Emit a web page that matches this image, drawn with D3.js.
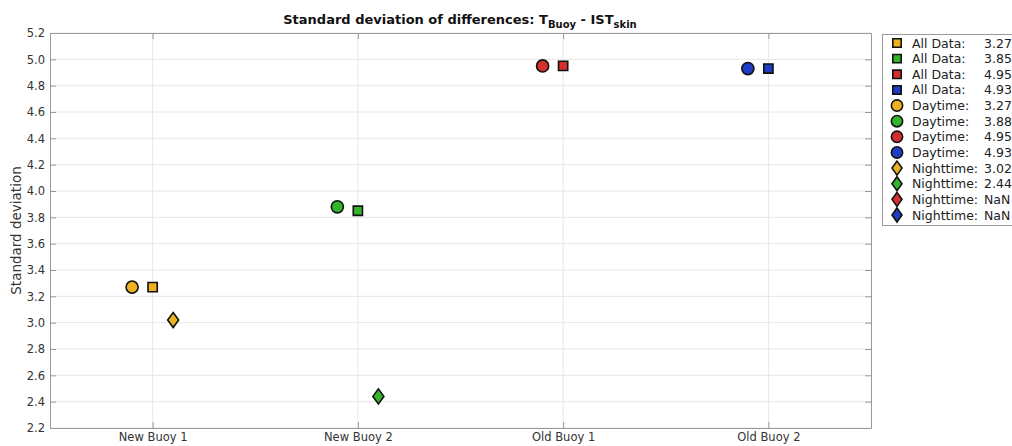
<!DOCTYPE html>
<html>
<head>
<meta charset="utf-8">
<script src="https://cdn.jsdelivr.net/npm/d3@7"></script>
<style>
  body { margin: 0; background: #fff; }
  svg { display: block; font-family: "DejaVu Sans", sans-serif; }
</style>
</head>
<body>
<svg id="chart" width="1012" height="446"></svg>
<script>
// Buoys compared and their standard deviations
const categories = ["New Buoy 1", "New Buoy 2", "Old Buoy 1", "Old Buoy 2"];
const allData   = [3.27, 3.85, 4.95, 4.93];
const daytime   = [3.27, 3.88, 4.95, 4.93];
const nighttime = [3.02, 2.44, NaN, NaN];
const buoyColors = ["#EDB120", "#33B52A", "#D42F2F", "#1C3DC4"];
const yTicks = [2.2, 2.4, 2.6, 2.8, 3.0, 3.2, 3.4, 3.6, 3.8, 4.0, 4.2, 4.4, 4.6, 4.8, 5.0, 5.2];

const svg = d3.select("#chart");
const m = { left: 50, right: 871, top: 33, bottom: 428 };
const x = d3.scaleLinear().domain([0.5, 4.5]).range([m.left, m.right]);
const y = d3.scaleLinear().domain([2.2, 5.2]).range([m.bottom, m.top]);
const axisColor = "#9a9a9a";
const textColor = "#333";

// grid
const grid = svg.append("g");
grid.selectAll(".gy").data(yTicks).join("line")
  .attr("x1", m.left).attr("x2", m.right)
  .attr("y1", d => y(d)).attr("y2", d => y(d))
  .attr("stroke", "#e6e6e6").attr("stroke-width", 1);
grid.selectAll(".gx").data(categories).join("line")
  .attr("x1", (d, i) => x(i + 1)).attr("x2", (d, i) => x(i + 1))
  .attr("y1", m.top).attr("y2", m.bottom)
  .attr("stroke", "#e6e6e6").attr("stroke-width", 1);

// axes (ticks drawn inward, box on)
const yAxisL = d3.axisLeft(y).tickValues(yTicks).tickFormat(d3.format(".1f")).tickSizeInner(-6).tickSizeOuter(0).tickPadding(5);
const yAxisR = d3.axisRight(y).tickValues(yTicks).tickFormat("").tickSizeInner(-6).tickSizeOuter(0);
const xAxisB = d3.axisBottom(x).tickValues([1, 2, 3, 4]).tickFormat(d => categories[d - 1]).tickSizeInner(-6).tickSizeOuter(0).tickPadding(5);
const xAxisT = d3.axisTop(x).tickValues([1, 2, 3, 4]).tickFormat("").tickSizeInner(-6).tickSizeOuter(0);

function styleAxis(g) {
  g.selectAll("path").attr("stroke", axisColor);
  g.selectAll("line").attr("stroke", axisColor);
  g.selectAll("text").attr("fill", textColor).attr("font-size", 11.5).attr("font-family", "DejaVu Sans");
}
svg.append("g").attr("transform", `translate(${m.left},0)`).call(yAxisL).call(styleAxis);
svg.append("g").attr("transform", `translate(${m.right},0)`).call(yAxisR).call(styleAxis);
svg.append("g").attr("transform", `translate(0,${m.bottom})`).call(xAxisB).call(styleAxis);
svg.append("g").attr("transform", `translate(0,${m.top})`).call(xAxisT).call(styleAxis);

// markers
const sym = {
  square: d3.symbol().type(d3.symbolSquare).size(85),
  circle: d3.symbol().type(d3.symbolCircle).size(115),
  diamond: "M0,-7.5L5.5,0L0,7.5L-5.5,0Z"
};
const series = [
  { name: "All Data:", vals: allData, shape: "square", off: 0 },
  { name: "Daytime:", vals: daytime, shape: "circle", off: -0.1 },
  { name: "Nighttime:", vals: nighttime, shape: "diamond", off: 0.1 }
];
const pts = svg.append("g");
series.forEach(s => {
  const data = s.vals.map((v, i) => ({ v, i })).filter(d => !isNaN(d.v));
  pts.selectAll(null).data(data).join("path")
    .attr("d", s.shape === "diamond" ? sym.diamond : sym[s.shape]())
    .attr("transform", d => `translate(${x(d.i + 1 + s.off)},${y(d.v)})`)
    .attr("fill", d => buoyColors[d.i])
    .attr("stroke", "#111").attr("stroke-width", 1.6);
});

// title
const title = svg.append("text").attr("x", 460).attr("y", 24).attr("text-anchor", "middle")
  .attr("font-size", 13).attr("font-weight", "bold").attr("fill", "#111");
title.append("tspan").text("Standard deviation of differences: T");
title.append("tspan").attr("font-size", 10).attr("dy", 4).text("Buoy");
title.append("tspan").attr("dy", -4).text(" - IST");
title.append("tspan").attr("font-size", 10).attr("dy", 4).text("skin");

// y label
svg.append("text").attr("transform", `translate(21,${(m.top + m.bottom) / 2}) rotate(-90)`)
  .attr("text-anchor", "middle").attr("font-size", 13.5).attr("fill", textColor)
  .text("Standard deviation");

// legend
const legend = svg.append("g");
legend.append("rect").attr("x", 882.5).attr("y", 34.5).attr("width", 140).attr("height", 191)
  .attr("fill", "#fff").attr("stroke", axisColor);
const entries = [];
series.forEach(s => s.vals.forEach((v, i) => entries.push({ s, v, i })));
const rowY = d3.scaleLinear().domain([0, entries.length - 1]).range([43, 215]);
const legSym = {
  square: d3.symbol().type(d3.symbolSquare).size(70),
  circle: d3.symbol().type(d3.symbolCircle).size(100),
  diamond: "M0,-7L5,0L0,7L-5,0Z"
};
entries.forEach((e, k) => {
  const cy = rowY(k);
  legend.append("path")
    .attr("d", e.s.shape === "diamond" ? legSym.diamond : legSym[e.s.shape]())
    .attr("transform", `translate(897,${cy})`)
    .attr("fill", buoyColors[e.i]).attr("stroke", "#111").attr("stroke-width", 1.6);
  legend.append("text").attr("x", 912).attr("y", cy + 4.5)
    .attr("font-size", 12.5).attr("fill", "#222")
    .text(e.s.name);
  legend.append("text").attr("x", 984).attr("y", cy + 4.5)
    .attr("font-size", 12.5).attr("fill", "#222")
    .text(isNaN(e.v) ? "NaN" : e.v.toFixed(2));
});
</script>
</body>
</html>
